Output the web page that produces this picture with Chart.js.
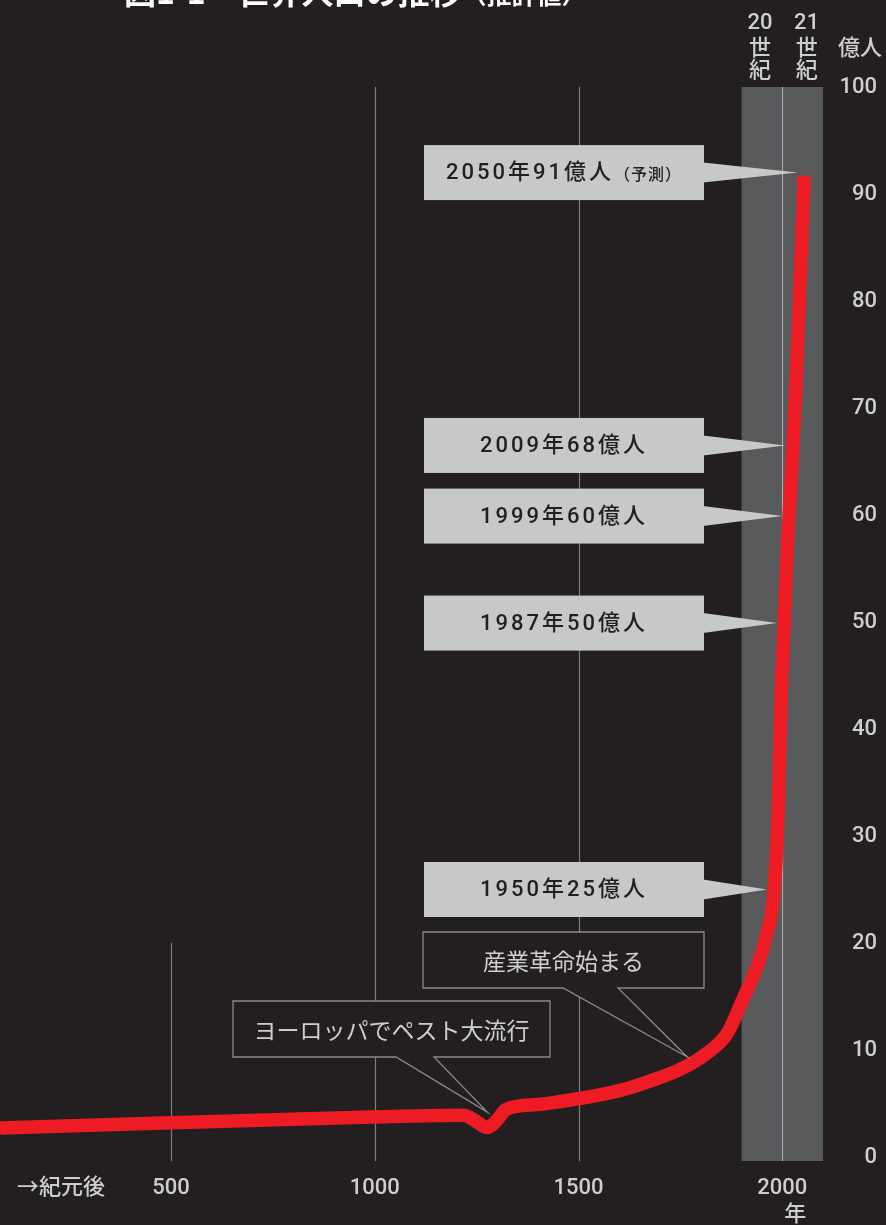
<!DOCTYPE html>
<html lang="ja">
<head>
<meta charset="utf-8">
<title>世界人口の推移</title>
<script src="https://cdn.jsdelivr.net/npm/chart.js@4/dist/chart.umd.min.js"></script>
<style>
  html, body { margin: 0; padding: 0; background: #231f20; }
  #wrap { width: 886px; height: 1225px; position: relative; }
</style>
</head>
<body>
<div id="wrap"><canvas id="chart"></canvas></div>
<script>
// world population (億人)
const years = [80, 500, 817, 1013, 1217, 1250, 1275, 1300, 1322, 1400, 1450, 1500, 1600, 1668, 1750, 1815, 1864, 1903, 1944, 1958, 1980, 1991, 1997, 2005, 2012, 2019, 2032, 2042, 2054];
const population = [2.7, 3.2, 3.55, 3.77, 3.9, 3.3, 2.75, 3.45, 4.45, 4.9, 5.15, 5.45, 6.2, 7.0, 8.2, 9.7, 11.5, 14.7, 18.4, 20.3, 25, 33.4, 42.7, 50, 56.7, 61.4, 70.7, 80, 91.7];

const xTicks = [500, 1000, 1500, 2000];
const gridYears = [500, 1000, 1500, 2000];
const gridTop = [20, 100, 100, 100]; // the 500 line only reaches up to 20
const centuries = [[1900, 2000, "20"], [2000, 2100, "21"]];

const filledNotes = [
  { label: "2050年91億人", sub: "（予測）", tipYear: 2037, tipValue: 92 },
  { label: "2009年68億人", tipYear: 2007, tipValue: 66.5 },
  { label: "1999年60億人", tipYear: 2000.5, tipValue: 59.9 },
  { label: "1987年50億人", tipYear: 1987, tipValue: 49.9 },
  { label: "1950年25億人", tipYear: 1962, tipValue: 25 },
];
const outlineNotes = [
  { label: "産業革命始まる", tipYear: 1767, tipValue: 9.35, box: [423, 932, 704, 988], base: [563, 618] },
  { label: "ヨーロッパでペスト大流行", tipYear: 1276, tipValue: 4.2, box: [233, 1001, 550, 1057], base: [396, 434] },
];

const BG = "#231f20";
const TXT = "#cdcecf";
const NUM = "Roboto, 'Noto Sans CJK JP', sans-serif";
const JP = "'Noto Sans CJK JP', sans-serif";

const decor = {
  id: "decor",
  beforeDatasetsDraw(chart) {
    const { ctx, chartArea: a, scales: { x, y } } = chart;
    ctx.save();
    ctx.fillStyle = "#58595b";
    centuries.forEach(([from, to]) => {
      const l = x.getPixelForValue(from), r = x.getPixelForValue(to);
      ctx.fillRect(l, a.top, r - l, a.bottom - a.top + 4);
    });
    gridYears.forEach((yr, i) => {
      const px = Math.round(x.getPixelForValue(yr)) + 0.5;
      ctx.strokeStyle = yr === 2000 ? "#a7a9ac" : "#7d7d7d";
      ctx.lineWidth = 1.2;
      ctx.beginPath();
      ctx.moveTo(px, y.getPixelForValue(gridTop[i]));
      ctx.lineTo(px, a.bottom + 4);
      ctx.stroke();
    });
    ctx.restore();
  },
  afterDatasetsDraw(chart) {
    const { ctx, scales: { x, y } } = chart;
    ctx.save();

    // grey callouts with pointer
    filledNotes.forEach(n => {
      const tx = x.getPixelForValue(n.tipYear), ty = y.getPixelForValue(n.tipValue);
      const l = 424, r = 704, h = 55;
      ctx.fillStyle = "#c7c8ca";
      ctx.fillRect(l, ty - h / 2, r - l, h);
      ctx.beginPath();
      ctx.moveTo(r - 1, ty - 10);
      ctx.lineTo(tx, ty);
      ctx.lineTo(r - 1, ty + 10);
      ctx.closePath();
      ctx.fill();

      ctx.fillStyle = BG;
      ctx.textBaseline = "middle";
      ctx.textAlign = "left";
      ctx.letterSpacing = "3px";
      ctx.font = "500 22px " + NUM;
      const w1 = ctx.measureText(n.label).width;
      let w2 = 0;
      if (n.sub) {
        ctx.font = "500 16px " + JP;
        ctx.letterSpacing = "1px";
        w2 = ctx.measureText(n.sub).width;
      }
      const sx = (l + r) / 2 - (w1 + w2) / 2;
      ctx.font = "500 22px " + NUM;
      ctx.letterSpacing = "3px";
      ctx.fillText(n.label, sx, ty + 1);
      if (n.sub) {
        ctx.font = "500 16px " + JP;
        ctx.letterSpacing = "1px";
        ctx.fillText(n.sub, sx + w1, ty + 1);
      }
    });
    ctx.letterSpacing = "0px";

    // outlined callouts
    outlineNotes.forEach(n => {
      const tx = x.getPixelForValue(n.tipYear), ty = y.getPixelForValue(n.tipValue);
      const [l, t, r, b] = n.box;
      ctx.beginPath();
      ctx.moveTo(l, t);
      ctx.lineTo(r, t);
      ctx.lineTo(r, b);
      ctx.lineTo(n.base[1], b);
      ctx.lineTo(tx, ty);
      ctx.lineTo(n.base[0], b);
      ctx.lineTo(l, b);
      ctx.closePath();
      ctx.fillStyle = BG;
      ctx.fill();
      ctx.strokeStyle = "#8a8a8a";
      ctx.lineWidth = 1.3;
      ctx.stroke();
      ctx.fillStyle = TXT;
      ctx.font = "23px " + JP;
      ctx.textAlign = "center";
      ctx.textBaseline = "middle";
      ctx.fillText(n.label, (l + r) / 2, (t + b) / 2 + 1);
    });

    // header texts above the bands
    ctx.fillStyle = TXT;
    ctx.textAlign = "center";
    ctx.textBaseline = "middle";
    centuries.forEach(([from, to, c], i) => {
      const cx = (x.getPixelForValue(from) + x.getPixelForValue(to)) / 2 + (i === 0 ? -2 : 4);
      ctx.font = "500 22px " + NUM;
      ctx.fillText(c, cx, 23);
      ctx.font = "500 22px " + JP;
      ctx.fillText("世", cx, 47);
      ctx.fillText("紀", cx, 69);
    });
    ctx.font = "500 22px " + JP;
    ctx.fillText("億人", 860, 47);

    // bottom texts
    ctx.textAlign = "left";
    ctx.fillText("→紀元後", 17, 1186);
    ctx.textAlign = "center";
    ctx.fillText("年", x.getPixelForValue(2000) + 13, 1213);

    // title (cut off by the top edge)
    ctx.fillStyle = "#ffffff";
    ctx.textAlign = "left";
    ctx.textBaseline = "alphabetic";
    ctx.font = "bold 32px " + JP;
    const t1 = "図1-1　世界人口の推移";
    ctx.fillText(t1, 124, 4);
    const tw = ctx.measureText(t1).width;
    ctx.font = "bold 25px " + JP;
    ctx.fillText("（推計値）", 124 + tw, 4);

    ctx.restore();
  }
};

new Chart(document.getElementById("chart"), {
  type: "line",
  data: {
    datasets: [{
      data: years.map((yr, i) => ({ x: yr, y: population[i] })),
      borderColor: "#ed1c24",
      borderWidth: 13.5,
      borderCapStyle: "butt",
      borderJoinStyle: "round",
      cubicInterpolationMode: "monotone",
      pointRadius: 0,
      fill: false,
    }],
  },
  options: {
    responsive: true,
    maintainAspectRatio: false,
    animation: false,
    layout: { padding: { top: 87, left: 0, right: 9, bottom: 0 } },
    plugins: { legend: { display: false }, tooltip: { enabled: false } },
    scales: {
      x: {
        type: "linear",
        position: "bottom",
        min: 80,
        max: 2100,
        grid: { display: false, drawTicks: false },
        border: { display: false },
        afterBuildTicks: s => { s.ticks = xTicks.map(v => ({ value: v })); },
        afterFit: s => { s.height = 68; },
        ticks: {
          color: TXT,
          font: { family: NUM, size: 22, weight: "500" },
          padding: 18,
          maxRotation: 0,
          callback: v => String(v),
        },
      },
      y: {
        type: "linear",
        position: "right",
        min: 0,
        max: 100,
        grid: { display: false, drawTicks: false },
        border: { display: false },
        afterFit: s => { s.width = 54; },
        ticks: {
          stepSize: 10,
          color: TXT,
          font: { family: NUM, size: 22, weight: "500" },
          padding: 9,
          crossAlign: "far",
          callback: v => String(v),
        },
      },
    },
  },
  plugins: [decor],
});
</script>
</body>
</html>
